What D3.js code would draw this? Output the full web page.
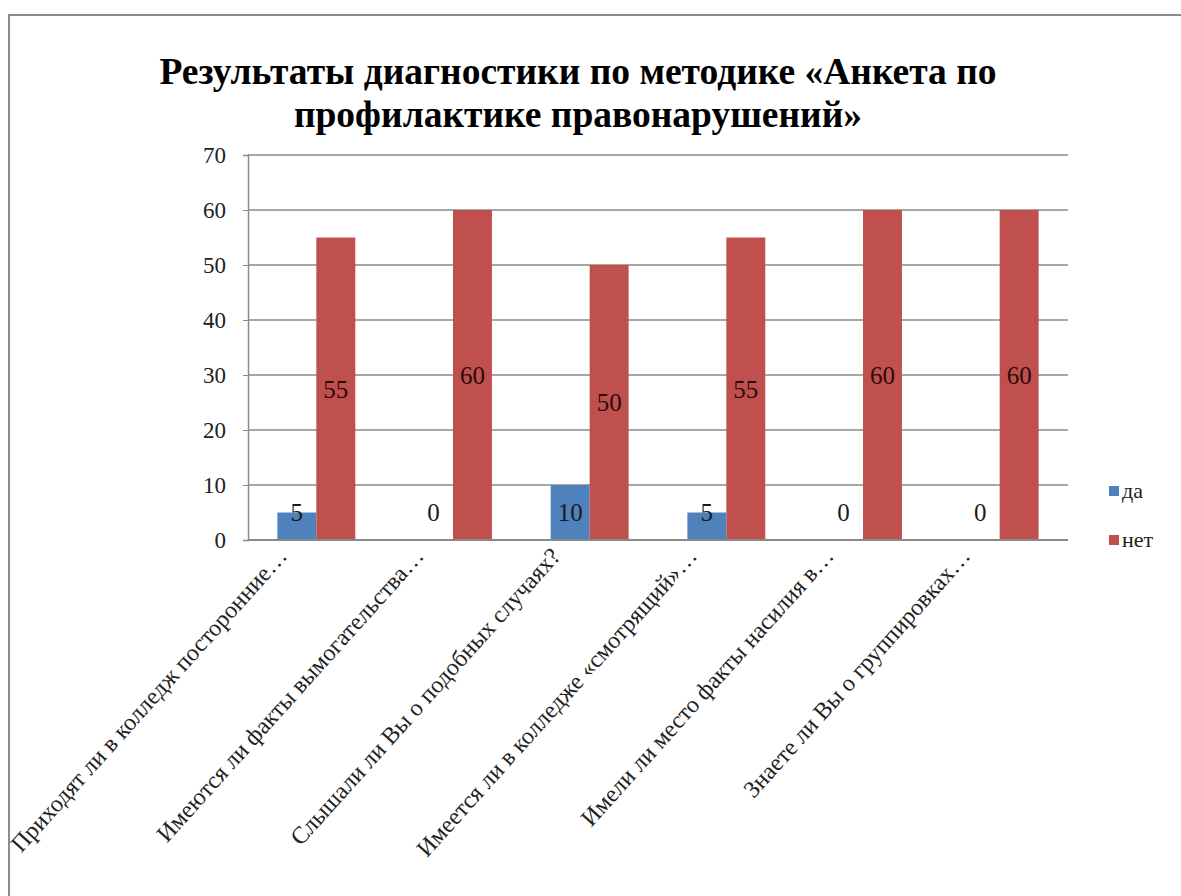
<!DOCTYPE html>
<html>
<head>
<meta charset="utf-8">
<script src="https://cdn.jsdelivr.net/npm/d3@7"></script>
<style>
  body { margin: 0; background: #fff; }
</style>
</head>
<body>
<div id="chart"></div>
<script>
// данные диаграммы
var categories = [
  "Приходят ли в колледж посторонние…",
  "Имеются ли факты вымогательства…",
  "Слышали ли Вы о подобных случаях?",
  "Имеется ли в колледже «смотрящий»…",
  "Имели ли место факты насилия в…",
  "Знаете ли Вы о группировках…"
];
var seriesNames = ["да", "нет"];
var daValues  = [5, 0, 10, 5, 0, 0];
var netValues = [55, 60, 50, 55, 60, 60];
var yTicks = [0, 10, 20, 30, 40, 50, 60, 70];
var titleLines = ["Результаты диагностики по методике «Анкета по", "профилактике правонарушений»"];

var colors = ["#4F81BD", "#C0504D"];
var serif = "'Liberation Serif', 'Times New Roman', serif";
var w = 1181, h = 896;

var svg = d3.select("#chart").append("svg")
  .attr("width", w)
  .attr("height", h)
  .attr("font-family", serif);

// рамка диаграммы
svg.append("rect")
  .attr("x", 9).attr("y", 15)
  .attr("width", 1200).attr("height", 900)
  .attr("fill", "#fff")
  .attr("stroke", "#8c8c8c")
  .attr("stroke-width", 2);

// заголовок
svg.append("g").selectAll("text")
  .data(titleLines)
  .enter().append("text")
  .attr("x", 578)
  .attr("y", function(d, i) { return 84 + i * 43; })
  .attr("text-anchor", "middle")
  .style("font-family", serif)
  .style("font-size", "37.5px")
  .style("font-weight", "bold")
  .style("fill", "#000")
  .text(function(d) { return d; });

var pLeft = 248, pRight = 1068, pTop = 155, pBottom = 540;

var x = d3.scaleBand().domain(categories).range([pLeft, pRight]).paddingInner(0.43).paddingOuter(0.215);
var x1 = d3.scaleBand().domain(seriesNames).range([0, x.bandwidth()]);
var y = d3.scaleLinear().domain([0, 70]).range([pBottom, pTop]);

// сетка
svg.append("g").selectAll("line")
  .data(yTicks)
  .enter().append("line")
  .attr("x1", pLeft).attr("x2", pRight)
  .attr("y1", function(d) { return y(d); })
  .attr("y2", function(d) { return y(d); })
  .attr("stroke", "#8a8a8a")
  .attr("stroke-width", 1.5);

// ось Y
var yAxis = svg.append("g")
  .attr("transform", "translate(" + pLeft + ",0)")
  .call(d3.axisLeft(y).tickValues(yTicks).tickSize(5).tickPadding(17));
yAxis.attr("font-family", serif);
yAxis.select(".domain").attr("stroke", "#8a8a8a").attr("stroke-width", 1.5);
yAxis.selectAll(".tick line").attr("stroke", "#8a8a8a");
yAxis.selectAll("text")
  .style("font-family", serif)
  .style("font-size", "23px")
  .style("fill", "#222");

var rows = categories.map(function(c, i) {
  return { cat: c, vals: [daValues[i], netValues[i]] };
});

var groups = svg.append("g").selectAll("g")
  .data(rows)
  .enter().append("g")
  .attr("transform", function(d) { return "translate(" + x(d.cat) + ",0)"; });

var cells = function(d) {
  return d.vals.map(function(v, j) { return { name: seriesNames[j], v: v, j: j }; });
};

groups.selectAll("rect")
  .data(cells)
  .enter().append("rect")
  .attr("x", function(d) { return x1(d.name); })
  .attr("y", function(d) { return y(d.v); })
  .attr("width", x1.bandwidth())
  .attr("height", function(d) { return y(0) - y(d.v); })
  .style("fill", function(d) { return colors[d.j]; });

// подписи данных
groups.selectAll("text")
  .data(cells)
  .enter().append("text")
  .attr("x", function(d) { return x1(d.name) + x1.bandwidth() / 2; })
  .attr("y", function(d) { return Math.min(y(d.v / 2), y(5)); })
  .attr("dy", "0.35em")
  .attr("text-anchor", "middle")
  .style("font-family", serif)
  .style("font-size", "25px")
  .style("fill", function(d) { return d.j === 1 && d.v > 0 ? "#2b0a0a" : "#1a1a1a"; })
  .text(function(d) { return d.v; });

// ось X
svg.append("line")
  .attr("x1", pLeft).attr("x2", pRight)
  .attr("y1", y(0)).attr("y2", y(0))
  .attr("stroke", "#8a8a8a")
  .attr("stroke-width", 2);

svg.append("g").selectAll("text")
  .data(categories)
  .enter().append("text")
  .attr("transform", function(d) {
    var cx = x(d) + x.bandwidth() / 2;
    return "translate(" + (cx - 28) + "," + (y(0) + 17) + ") rotate(-48)";
  })
  .attr("text-anchor", "end")
  .style("font-family", serif)
  .style("font-size", "24px")
  .style("fill", "#222")
  .text(function(d) { return d; });

// легенда
var legend = svg.append("g").selectAll("g")
  .data(seriesNames)
  .enter().append("g")
  .attr("transform", function(d, i) { return "translate(1109," + (486 + i * 49) + ")"; });
legend.append("rect")
  .attr("width", 10).attr("height", 10)
  .style("fill", function(d, i) { return colors[i]; });
legend.append("text")
  .attr("x", 13).attr("y", 12)
  .style("font-family", serif)
  .style("font-size", "22px")
  .style("fill", "#222")
  .text(function(d) { return d; });
</script>
</body>
</html>
